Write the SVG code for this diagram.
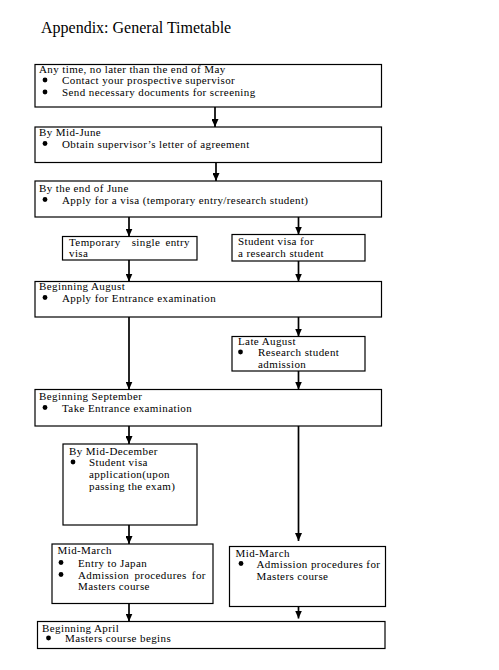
<svg xmlns="http://www.w3.org/2000/svg" width="499" height="670" viewBox="0 0 499 670">
<style>
  .box { fill: #fff; stroke: #000; stroke-width: 1.2; }
  .t { font-family: "Liberation Serif", "Times New Roman", serif; font-size: 11px; letter-spacing: 0.4px; fill: #000; }
  .title { font-family: "Liberation Serif", "Times New Roman", serif; font-size: 16px; fill: #000; }
  .arr { stroke: #000; stroke-width: 1.7; fill: none; marker-end: url(#ah); }
  .b { fill: #000; }
</style>
<defs>
  <marker id="ah" markerUnits="userSpaceOnUse" markerWidth="8" markerHeight="7" refX="8" refY="3.5" orient="auto" viewBox="0 0 8 7">
    <path d="M0,0 L8,3.5 L0,7 Z" fill="#000"/>
  </marker>
</defs>
<rect width="499" height="670" fill="#fff"/>
<text class="title" x="41" y="32.5">Appendix: General Timetable</text>

<g id="connectors">
  <line class="arr" x1="215" y1="107" x2="215" y2="127"/>
  <line class="arr" x1="216" y1="162" x2="216" y2="181"/>
  <line class="arr" x1="129" y1="217" x2="129" y2="236.5"/>
  <line class="arr" x1="298.5" y1="217" x2="298.5" y2="234.5"/>
  <line class="arr" x1="129" y1="260" x2="129" y2="281.5"/>
  <line class="arr" x1="298.5" y1="261" x2="298.5" y2="281.5"/>
  <line class="arr" x1="129" y1="317" x2="129" y2="389.5"/>
  <line class="arr" x1="298.5" y1="317" x2="298.5" y2="336.5"/>
  <line class="arr" x1="298.5" y1="371" x2="298.5" y2="389.5"/>
  <line class="arr" x1="129" y1="426" x2="129" y2="444"/>
  <line class="arr" x1="298.5" y1="426" x2="298.5" y2="541"/>
  <line class="arr" x1="129" y1="525" x2="129" y2="544"/>
  <line class="arr" x1="129" y1="603.5" x2="129" y2="621.5"/>
  <line class="arr" x1="298.5" y1="601.5" x2="298.5" y2="618.5"/>
</g>

<g id="n1">
  <rect class="box" x="35" y="64.5" width="346.5" height="42.5"/>
  <text class="t" x="39" y="72.5">Any time, no later than the end of May</text>
  <circle class="b" cx="45" cy="80" r="2.4"/>
  <text class="t" x="62" y="84">Contact your prospective supervisor</text>
  <circle class="b" cx="45" cy="92" r="2.4"/>
  <text class="t" x="62" y="96">Send necessary documents for screening</text>
</g>

<g id="n2">
  <rect class="box" x="35" y="127" width="346.5" height="35.5"/>
  <text class="t" x="39" y="136">By Mid-June</text>
  <circle class="b" cx="45" cy="143.5" r="2.4"/>
  <text class="t" x="62" y="147.5">Obtain supervisor’s letter of agreement</text>
</g>

<g id="n3">
  <rect class="box" x="35" y="181" width="346.5" height="36"/>
  <text class="t" x="39" y="191.5">By the end of June</text>
  <circle class="b" cx="45" cy="199.5" r="2.4"/>
  <text class="t" x="62" y="203.5">Apply for a visa (temporary entry/research student)</text>
</g>

<g id="n4">
  <rect class="box" x="62.5" y="236.5" width="134.5" height="23.5"/>
  <text class="t" x="69" y="245.5">Temporary</text>
  <text class="t" x="146" y="245.5" text-anchor="middle">single</text>
  <text class="t" x="190" y="245.5" text-anchor="end">entry</text>
  <text class="t" x="69" y="256.5">visa</text>
</g>

<g id="n5">
  <rect class="box" x="232" y="234.5" width="133" height="26.5"/>
  <text class="t" x="238" y="245">Student visa for</text>
  <text class="t" x="238" y="256.5">a research student</text>
</g>

<g id="n6">
  <rect class="box" x="35" y="281.5" width="346.5" height="35.5"/>
  <text class="t" x="39" y="290">Beginning August</text>
  <circle class="b" cx="45" cy="297.5" r="2.4"/>
  <text class="t" x="62" y="301.5">Apply for Entrance examination</text>
</g>

<g id="n7">
  <rect class="box" x="232" y="336.5" width="133" height="34.5"/>
  <text class="t" x="238" y="345">Late August</text>
  <circle class="b" cx="240.5" cy="352" r="2.4"/>
  <text class="t" x="258" y="356">Research student</text>
  <text class="t" x="258" y="367.5">admission</text>
</g>

<g id="n8">
  <rect class="box" x="35" y="389.5" width="346.5" height="36.5"/>
  <text class="t" x="39" y="399.5">Beginning September</text>
  <circle class="b" cx="45" cy="407.5" r="2.4"/>
  <text class="t" x="62" y="411.5">Take Entrance examination</text>
</g>

<g id="n9">
  <rect class="box" x="63" y="444" width="134" height="81"/>
  <text class="t" x="69" y="455">By Mid-December</text>
  <circle class="b" cx="73" cy="462" r="2.4"/>
  <text class="t" x="89" y="466">Student visa</text>
  <text class="t" x="89" y="477.5">application(upon</text>
  <text class="t" x="89" y="489.5">passing the exam)</text>
</g>

<g id="n10">
  <rect class="box" x="52" y="544" width="161" height="59.5"/>
  <text class="t" x="57.5" y="553.5">Mid-March</text>
  <circle class="b" cx="61" cy="562.5" r="2.4"/>
  <text class="t" x="78" y="566.5">Entry to Japan</text>
  <circle class="b" cx="61" cy="574.5" r="2.4"/>
  <text class="t" x="78" y="578.5" word-spacing="2">Admission procedures for</text>
  <text class="t" x="78" y="589.5">Masters course</text>
</g>

<g id="n11">
  <rect class="box" x="229.5" y="546.5" width="156" height="60"/>
  <text class="t" x="235.5" y="556.5">Mid-March</text>
  <circle class="b" cx="241" cy="563.5" r="2.4"/>
  <text class="t" x="256.5" y="567.5">Admission procedures for</text>
  <text class="t" x="256.5" y="579.5">Masters course</text>
</g>

<g id="n12">
  <rect class="box" x="37.5" y="621.5" width="347.5" height="27"/>
  <text class="t" x="42" y="631.5">Beginning April</text>
  <circle class="b" cx="48.5" cy="638" r="2.4"/>
  <text class="t" x="65" y="642">Masters course begins</text>
</g>
</svg>
